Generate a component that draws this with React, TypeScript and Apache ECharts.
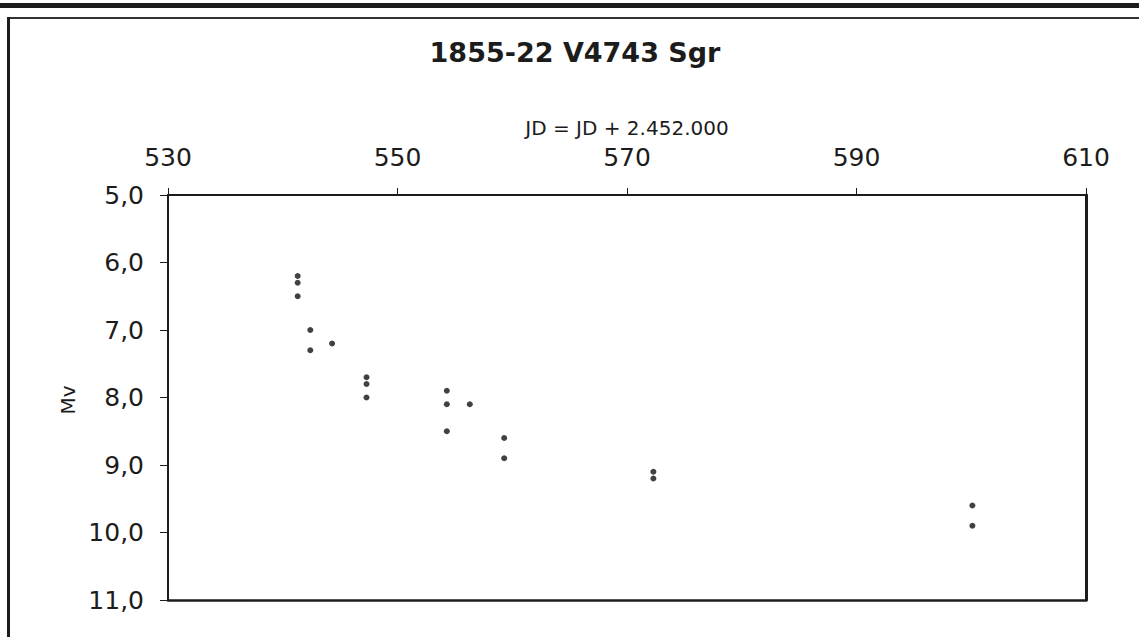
import React, { useEffect, useRef } from "react";
import * as echarts from "echarts";

const titleText = "1855-22 V4743 Sgr";
const xAxisName = "JD = JD + 2.452.000";
const yAxisName = "Mv";
const xTicks = [530, 550, 570, 590, 610];
const yTicks = [5, 6, 7, 8, 9, 10, 11];

// JD - 2452000
const jd = [541.3, 541.3, 541.3, 542.4, 542.4, 544.3, 547.3, 547.3, 547.3, 554.3, 554.3, 554.3, 556.3, 559.3, 559.3, 572.3, 572.3, 600.1, 600.1];
// visual magnitude
const mv = [6.2, 6.3, 6.5, 7.0, 7.3, 7.2, 7.7, 7.8, 8.0, 7.9, 8.1, 8.5, 8.1, 8.6, 8.9, 9.1, 9.2, 9.6, 9.9];

const INK = "#1c1c1c";

export default function App() {
  const ref = useRef<HTMLDivElement>(null);
  useEffect(() => {
    if (!ref.current) return;
    const chart = echarts.init(ref.current, null, { renderer: "svg" });
    const data = jd.map((x, i) => [x, mv[i]]);
    chart.setOption({
      animation: false,
      backgroundColor: "#ffffff",
      title: {
        text: titleText,
        left: 570,
        top: 34,
        textAlign: "center",
        textStyle: { fontFamily: "DejaVu Sans", fontWeight: "bold", fontSize: 27, color: INK },
      },
      graphic: [
        { type: "rect", shape: { x: 0, y: 3, width: 1139, height: 5 }, style: { fill: INK } },
        { type: "rect", shape: { x: 8, y: 17, width: 1131, height: 2 }, style: { fill: "#333" } },
        { type: "rect", shape: { x: 7, y: 17, width: 3, height: 620 }, style: { fill: INK } },
        {
          type: "text",
          x: 627,
          y: 128,
          style: {
            text: xAxisName,
            fontFamily: "DejaVu Sans",
            fontSize: 20,
            fill: INK,
            align: "center",
            verticalAlign: "middle",
          },
        },
        {
          type: "text",
          x: 68,
          y: 400,
          rotation: Math.PI / 2,
          style: {
            text: yAxisName,
            fontFamily: "DejaVu Sans",
            fontSize: 20,
            fill: INK,
            align: "center",
            verticalAlign: "middle",
          },
        },
      ],
      grid: { left: 168, top: 195, right: 53, bottom: 37, show: false },
      xAxis: [
        {
          type: "value",
          position: "top",
          min: xTicks[0],
          max: xTicks[xTicks.length - 1],
          interval: 20,
          axisLine: { show: true, lineStyle: { color: INK, width: 2 } },
          axisTick: { show: true, inside: false, length: 7, lineStyle: { color: INK, width: 1 } },
          axisLabel: { margin: 25, fontFamily: "DejaVu Sans", fontSize: 25, color: INK },
          splitLine: { show: false },
        },
        {
          type: "value",
          position: "bottom",
          min: xTicks[0],
          max: xTicks[xTicks.length - 1],
          interval: 20,
          axisLine: { show: true, lineStyle: { color: INK, width: 2.5 } },
          axisTick: { show: false },
          axisLabel: { show: false },
          splitLine: { show: false },
        },
      ],
      yAxis: [
        {
          type: "value",
          inverse: true,
          min: yTicks[0],
          max: yTicks[yTicks.length - 1],
          interval: 1,
          axisLine: { show: true, lineStyle: { color: INK, width: 2 } },
          axisTick: { show: true, inside: false, length: 8, lineStyle: { color: INK, width: 1 } },
          axisLabel: {
            margin: 24,
            fontFamily: "DejaVu Sans",
            fontSize: 25,
            color: INK,
            formatter: (v: number) => v.toFixed(1).replace(".", ","),
          },
          splitLine: { show: false },
        },
        {
          type: "value",
          position: "right",
          inverse: true,
          min: yTicks[0],
          max: yTicks[yTicks.length - 1],
          interval: 1,
          axisLine: { show: true, lineStyle: { color: INK, width: 3 } },
          axisTick: { show: false },
          axisLabel: { show: false },
          splitLine: { show: false },
        },
      ],
      series: [
        {
          type: "scatter",
          xAxisIndex: 0,
          yAxisIndex: 0,
          data,
          symbol: "circle",
          symbolSize: 6,
          itemStyle: { color: "#111111" },
        },
      ],
    });
    return () => chart.dispose();
  }, []);
  return (
    <div
      ref={ref}
      style={{ position: "fixed", left: 0, top: 0, width: 1139, height: 637 }}
    />
  );
}
